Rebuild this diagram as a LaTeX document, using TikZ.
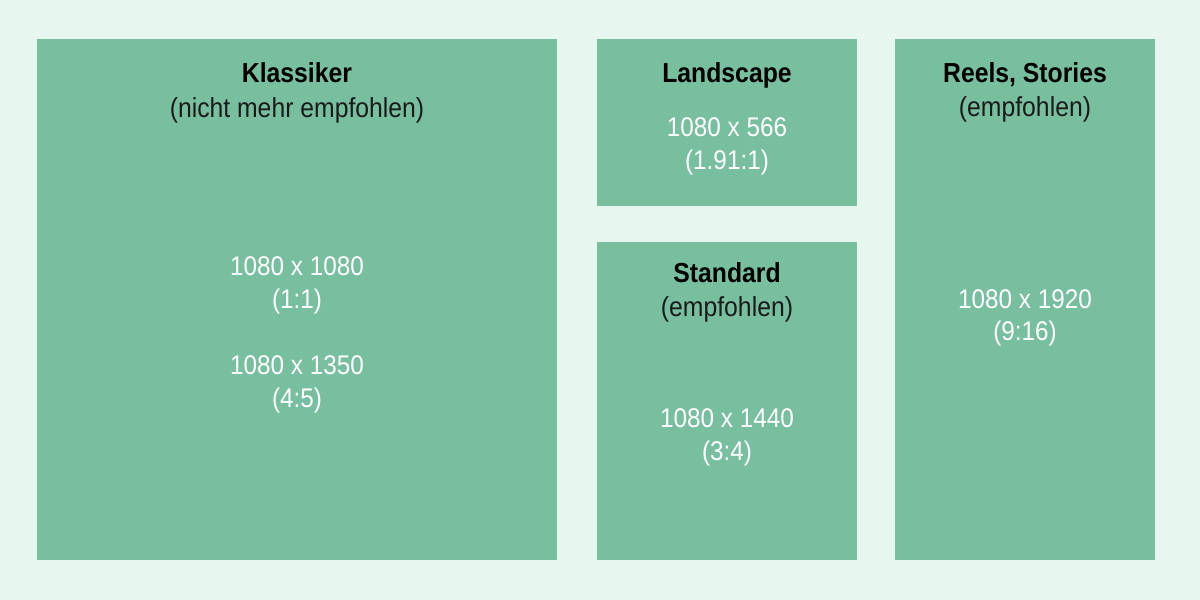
\documentclass[tikz,border=0pt]{standalone}
\usepackage{fontspec}
\setmainfont{Liberation Sans}[FakeStretch=0.9]
\definecolor{bgc}{HTML}{E8F6F0}
\definecolor{boxc}{HTML}{77BF9E}
\definecolor{subc}{HTML}{1A1A1A}
\begin{document}
\begin{tikzpicture}[x=1pt,y=-1pt,
  panel/.style={fill=boxc,draw=none},
  title/.style={anchor=base,inner sep=0pt,font=\fontsize{27.5}{33}\selectfont\bfseries,text=black},
  sub/.style={anchor=base,inner sep=0pt,font=\fontsize{27.5}{33}\selectfont,text=subc},
  dim/.style={anchor=base,inner sep=0pt,font=\fontsize{27}{33}\selectfont,text=white}]
\fill[bgc] (0,0) rectangle (1200,600);
\useasboundingbox (0,0) rectangle (1200,600);
\path[panel] (37,39) rectangle (557,560);
\path[panel] (597,39) rectangle (857,206);
\path[panel] (597,242) rectangle (857,560);
\path[panel] (895,39) rectangle (1155,560);
% Klassiker
\node[title] (k1) at (297,82) {Klassiker};
\node[sub] (k2) at (297,117) {(nicht mehr empfohlen)};
\node[dim] (k3) at (297,275) {1080 x 1080};
\node[dim] (k4) at (297,308) {(1:1)};
\node[dim] (k5) at (297,374) {1080 x 1350};
\node[dim] (k6) at (297,407) {(4:5)};
% Landscape
\node[title] (l1) at (727,82) {Landscape};
\node[dim] (l2) at (727,136) {1080 x 566};
\node[dim] (l3) at (727,169) {(1.91:1)};
% Standard
\node[title] (s1) at (727,282) {Standard};
\node[sub] (s2) at (727,316) {(empfohlen)};
\node[dim] (s3) at (727,427) {1080 x 1440};
\node[dim] (s4) at (727,460) {(3:4)};
% Reels
\node[title] (r1) at (1025,82) {Reels, Stories};
\node[sub] (r2) at (1025,116) {(empfohlen)};
\node[dim] (r3) at (1025,308) {1080 x 1920};
\node[dim] (r4) at (1025,340) {(9:16)};
\end{tikzpicture}
\end{document}
